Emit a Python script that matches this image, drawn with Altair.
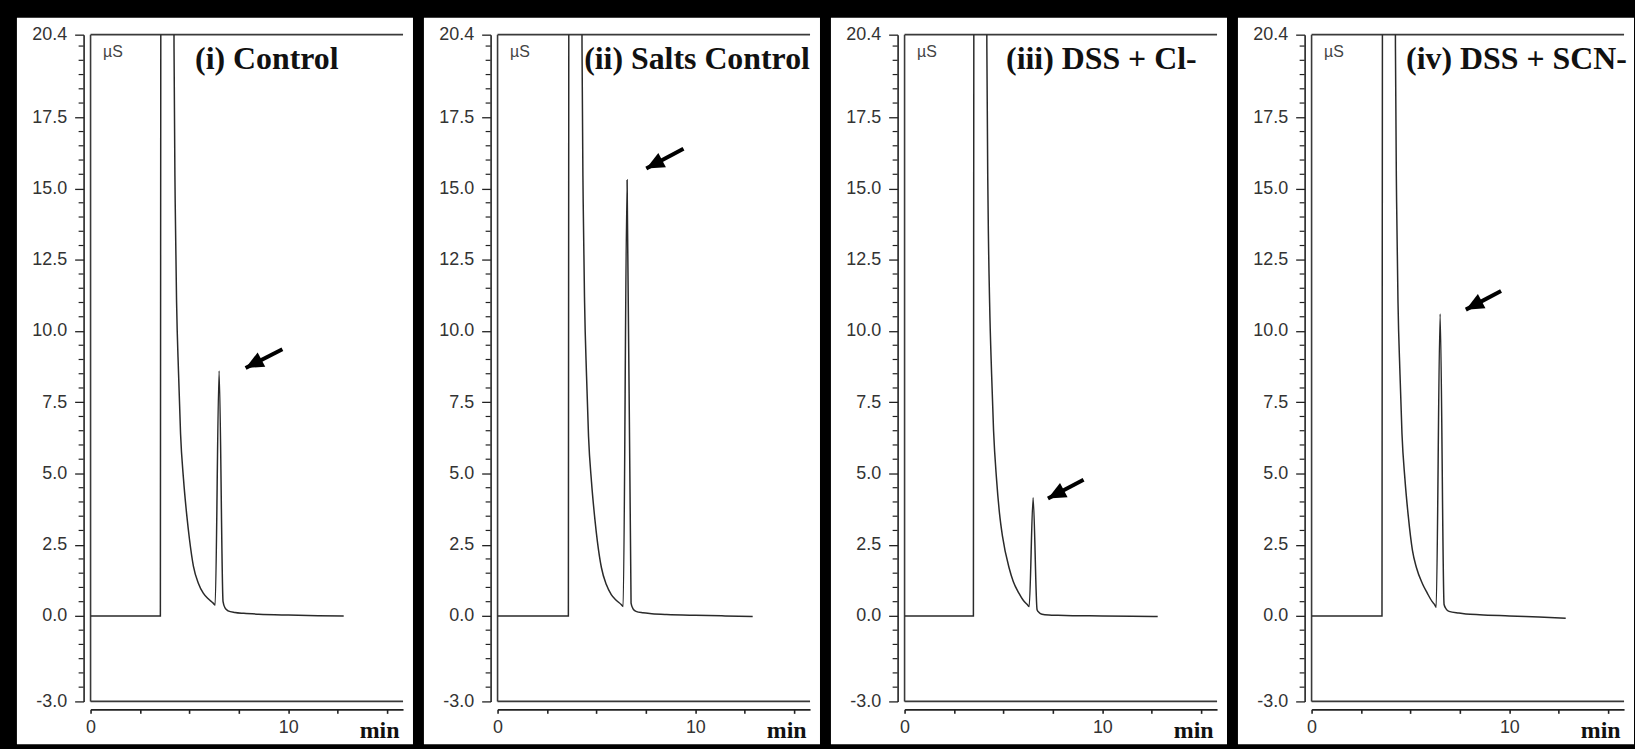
import altair as alt
import pandas as pd

# ---------------- data ----------------
panel_titles = ["(i) Control", "(ii) Salts Control", "(iii) DSS + Cl-", "(iv) DSS + SCN-"]

time_1 = [0.0, 3.53, 3.57, 3.9, 4.18, 4.22, 4.28, 4.35, 4.45, 4.55, 4.7, 4.87, 5.0, 5.2, 5.45,
          5.7, 5.95, 6.2, 6.3, 6.5, 6.7, 6.8, 6.95, 7.3, 7.75, 8.5, 10.0, 11.5, 12.8]
signal_1 = [0.0, 0.0, 40.0, 95.0, 40.0, 20.0, 14.5, 11.0, 8.5, 6.4, 4.8, 3.5, 2.7, 1.75, 1.15,
            0.8, 0.6, 0.45, 0.38, 8.6, 0.5, 0.28, 0.18, 0.12, 0.09, 0.06, 0.03, 0.01, 0.0]

time_2 = [0.0, 3.58, 3.62, 3.95, 4.23, 4.27, 4.33, 4.4, 4.5, 4.6, 4.75, 4.92, 5.05, 5.25, 5.5,
          5.75, 6.0, 6.25, 6.35, 6.55, 6.75, 6.85, 7.0, 7.35, 7.8, 8.55, 10.0, 11.5, 12.9]
signal_2 = [0.0, 0.0, 40.0, 95.0, 40.0, 20.0, 14.5, 11.0, 8.4, 6.3, 4.7, 3.4, 2.6, 1.7, 1.1,
            0.75, 0.55, 0.4, 0.33, 15.3, 0.45, 0.25, 0.16, 0.11, 0.08, 0.05, 0.02, 0.0, -0.02]

time_3 = [0.0, 3.48, 3.52, 3.85, 4.12, 4.16, 4.22, 4.3, 4.4, 4.5, 4.65, 4.8, 4.95, 5.28, 5.5,
          5.78, 6.0, 6.2, 6.3, 6.5, 6.7, 6.8, 6.95, 7.3, 7.75, 8.5, 10.0, 11.5, 12.8]
signal_3 = [0.0, 0.0, 40.0, 95.0, 40.0, 20.0, 14.5, 11.0, 8.5, 6.5, 4.8, 3.6, 2.8, 1.7, 1.2,
            0.8, 0.55, 0.4, 0.33, 4.15, 0.22, 0.12, 0.06, 0.03, 0.02, 0.01, 0.0, -0.01, -0.02]

time_4 = [0.0, 3.56, 3.6, 3.93, 4.2, 4.24, 4.3, 4.37, 4.47, 4.57, 4.72, 4.89, 5.1, 5.3, 5.6,
          5.85, 6.1, 6.22, 6.3, 6.5, 6.7, 6.8, 6.95, 7.45, 7.8, 8.5, 10.0, 11.5, 12.85]
signal_4 = [0.0, 0.0, 40.0, 95.0, 40.0, 20.0, 14.5, 11.0, 8.5, 6.4, 4.8, 3.5, 2.3, 1.7, 1.14,
            0.8, 0.5, 0.4, 0.3, 10.6, 0.4, 0.25, 0.16, 0.1, 0.07, 0.04, 0.0, -0.04, -0.08]

arrow_tail_time = [9.7, 9.4, 9.05, 9.58]
arrow_tail_signal = [9.36, 16.4, 4.78, 11.4]
arrow_tip_time = [7.84, 7.52, 7.25, 7.8]
arrow_tip_signal = [8.7, 15.7, 4.12, 10.75]

y_major_ticks = [-3.0, 0.0, 2.5, 5.0, 7.5, 10.0, 12.5, 15.0, 17.5, 20.4]
y_minor_ticks = [-2.5, -2.0, -1.5, -1.0, -0.5, 0.5, 1.0, 1.5, 2.0, 3.0, 3.5, 4.0, 4.5,
                 5.5, 6.0, 6.5, 7.0, 8.0, 8.5, 9.0, 9.5, 10.5, 11.0, 11.5, 12.0, 13.0,
                 13.5, 14.0, 14.5, 15.5, 16.0, 16.5, 17.0, 18.0, 18.5, 19.0, 19.5, 20.0]
x_ticks = [0, 2.5, 5, 7.5, 10, 12.5, 15]

times = [time_1, time_2, time_3, time_4]
signals = [signal_1, signal_2, signal_3, signal_4]

# ---------------- layout / style ----------------
W, H = 314, 670
title_x = [105, 87, 102, 95]
INK = "#2a2a2a"

xs = alt.Scale(domain=[0, 15.8], nice=False, zero=False)
ys = alt.Scale(domain=[-3, 20.4], nice=False, zero=False)

x_axis = alt.Axis(
    values=x_ticks, offset=8, tickSize=4, tickWidth=1.6, tickColor="#222",
    domainColor="#222", domainWidth=1.6, grid=False, zindex=1,
    labelExpr="(datum.value == 0 || datum.value == 10) ? format(datum.value, 'd') : ''",
    labelFont="Liberation Sans", labelFontSize=18, labelColor="#333",
    labelPadding=5, labelFlush=False, labelOverlap=False,
    title="min", titleFont="Liberation Serif", titleFontSize=24, titleFontWeight="bold",
    titleColor="#111", titleX=310, titleY=28, titleAlign="right", titleBaseline="alphabetic",
)
y_axis = alt.Axis(
    values=y_major_ticks, offset=7, tickSize=9, tickWidth=1.3, tickColor="#222",
    domainColor="#222", domainWidth=1.6, grid=False, zindex=1,
    labelExpr="datum.value < 0 ? '-' + format(-datum.value, '.1f') : format(datum.value, '.1f')",
    labelFont="Liberation Sans", labelFontSize=18, labelColor="#333",
    labelPadding=8, labelFlush=False, labelOverlap=False,
    title="µS", titleFont="Liberation Sans", titleFontSize=16, titleFontWeight="normal",
    titleColor="#444", titleAngle=0, titleX=19, titleY=17, titleAlign="left",
    titleBaseline="middle",
)

one = pd.DataFrame({"k": [0]})


def panel(i):
    trace = pd.DataFrame({"time": times[i], "signal": signals[i]})
    arrow = pd.DataFrame({
        "time": [arrow_tail_time[i]], "signal": [arrow_tail_signal[i]],
        "time2": [arrow_tip_time[i]], "signal2": [arrow_tip_signal[i]],
    })

    bg = alt.Chart(one).mark_rect(color="white").encode(
        x=alt.value(-74), x2=alt.value(324), y=alt.value(-17), y2=alt.value(713))

    minor = alt.Chart(pd.DataFrame({"signal": y_minor_ticks})).mark_rule(
        color="#222", strokeWidth=1.2).encode(
        y=alt.Y("signal:Q", scale=ys, axis=y_axis),
        x=alt.value(-12), x2=alt.value(-7))

    top = alt.Chart(one).mark_rule(color="#3a3a3a", strokeWidth=1.6).encode(
        x=alt.value(0), x2=alt.value(W), y=alt.value(0))
    left = alt.Chart(one).mark_rule(color="#3a3a3a", strokeWidth=1.6).encode(
        x=alt.value(0), y=alt.value(0), y2=alt.value(H))
    bottom = alt.Chart(one).mark_rule(color="#3a3a3a", strokeWidth=1.6).encode(
        x=alt.value(0), x2=alt.value(W), y=alt.value(H))

    line = alt.Chart(trace).mark_line(
        clip=True, color=INK, strokeWidth=1.5, interpolate="monotone").encode(
        x=alt.X("time:Q", scale=xs, axis=x_axis),
        y=alt.Y("signal:Q", scale=ys, axis=y_axis))

    shaft = alt.Chart(arrow).mark_rule(color="black", strokeWidth=4).encode(
        x=alt.X("time:Q", scale=xs, axis=x_axis),
        y=alt.Y("signal:Q", scale=ys, axis=y_axis),
        x2="time2:Q", y2="signal2:Q")

    head = alt.Chart(arrow).mark_point(
        shape="M0,0L1,-0.45L1,0.45Z", size=1300, filled=True, color="black",
        opacity=1, strokeWidth=0, angle=332).encode(
        x=alt.X("time2:Q", scale=xs, axis=x_axis, title="min"),
        y=alt.Y("signal2:Q", scale=ys, axis=y_axis, title="µS"))

    title = alt.Chart(pd.DataFrame({"label": [panel_titles[i]]})).mark_text(
        font="Liberation Serif", fontSize=32, fontWeight="bold", color="#111",
        align="left", baseline="alphabetic").encode(
        x=alt.value(title_x[i]), y=alt.value(35), text="label:N")

    return alt.layer(bg, minor, top, left, bottom, line, shaft, head, title).properties(
        width=W, height=H)


chart = alt.hconcat(*[panel(i) for i in range(4)], spacing=9).properties(
    background="black",
    padding={"left": 16, "top": 15, "right": 0, "bottom": 4},
).configure(font="Liberation Sans").configure_view(stroke="transparent")

chart.save("out.html", embed_options={"renderer": "svg", "actions": False})
